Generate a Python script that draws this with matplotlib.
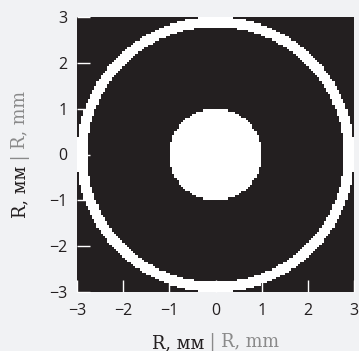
import numpy as np
import matplotlib.pyplot as plt
from matplotlib.colors import ListedColormap

# mask geometry (mm)
extent_mm = [-3, 3]
grid_n = 128
disk_radius = 1.0
ring_inner = 2.78
ring_outer = 3.0
ticks = [-3, -2, -1, 0, 1, 2, 3]
label_ru = "R, мм"
label_en = " | R, mm"

step = (extent_mm[1] - extent_mm[0]) / grid_n
x = extent_mm[0] + step * (np.arange(grid_n) + 0.5)
xx, yy = np.meshgrid(x, x)
rr = np.sqrt(xx**2 + yy**2)
mask = (rr <= disk_radius) | ((rr >= ring_inner) & (rr <= ring_outer))

dark = '#231f20'
W, H = 359, 351
fig = plt.figure(figsize=(3.59, 3.51), dpi=100, facecolor='#f1f2f4')
ax = fig.add_axes([77/W, 1 - 292/H, 277/W, 275/H])
ax.imshow(mask, cmap=ListedColormap([dark, '#ffffff']), origin='lower',
          extent=[-3, 3, -3, 3], interpolation='nearest', aspect='auto')
ax.set_xlim(-3, 3)
ax.set_ylim(-3, 3)
ax.set_xticks(ticks)
ax.set_yticks(ticks)
ax.set_xticklabels([str(t).replace('-', '\u2212') for t in ticks])
ax.set_yticklabels([str(t).replace('-', '\u2212') for t in ticks])
ax.tick_params(direction='in', color='white', length=9, width=1,
               labelsize=11.5, labelcolor=dark)
ax.tick_params(axis='x', pad=8)
ax.tick_params(axis='y', pad=7)
# the zero ticks sit on the white ring, so they show dark
ax.xaxis.get_major_ticks()[3].tick1line.set_color(dark)
ax.yaxis.get_major_ticks()[3].tick1line.set_color(dark)
for lab in ax.get_xticklabels() + ax.get_yticklabels():
    lab.set_family('Open Sans')
for s in ax.spines.values():
    s.set_visible(False)

tfont = dict(family='DejaVu Serif', fontsize=12.8)
r = fig.canvas.get_renderer()

# x label: black part then gray part right after it, centred under the axes
t1 = fig.text(0, 1 - 343/H, label_ru, color=dark, ha='left', va='center', **tfont)
t1b = fig.text(0, 1 - 343/H, label_en, color='#8a8a8a', ha='left', va='center', **tfont)
w1 = t1.get_window_extent(r).width
w2 = t1b.get_window_extent(r).width
x0 = 215.5 - (w1 + w2) / 2
t1.set_x(x0 / W)
t1b.set_x((x0 + w1) / W)

# y label, rotated, centred on the axes
t2 = fig.text(20/W, 0, label_ru, color=dark, rotation=90,
              rotation_mode='anchor', ha='left', va='center', **tfont)
t2b = fig.text(20/W, 0, label_en, color='#8a8a8a', rotation=90,
               rotation_mode='anchor', ha='left', va='center', **tfont)
h1 = t2.get_window_extent(r).height
h2 = t2b.get_window_extent(r).height
y0 = (H - 154.5) - (h1 + h2) / 2
t2.set_y(y0 / H)
t2b.set_y((y0 + h1) / H)

fig.savefig('out.png', dpi=100, facecolor=fig.get_facecolor())
